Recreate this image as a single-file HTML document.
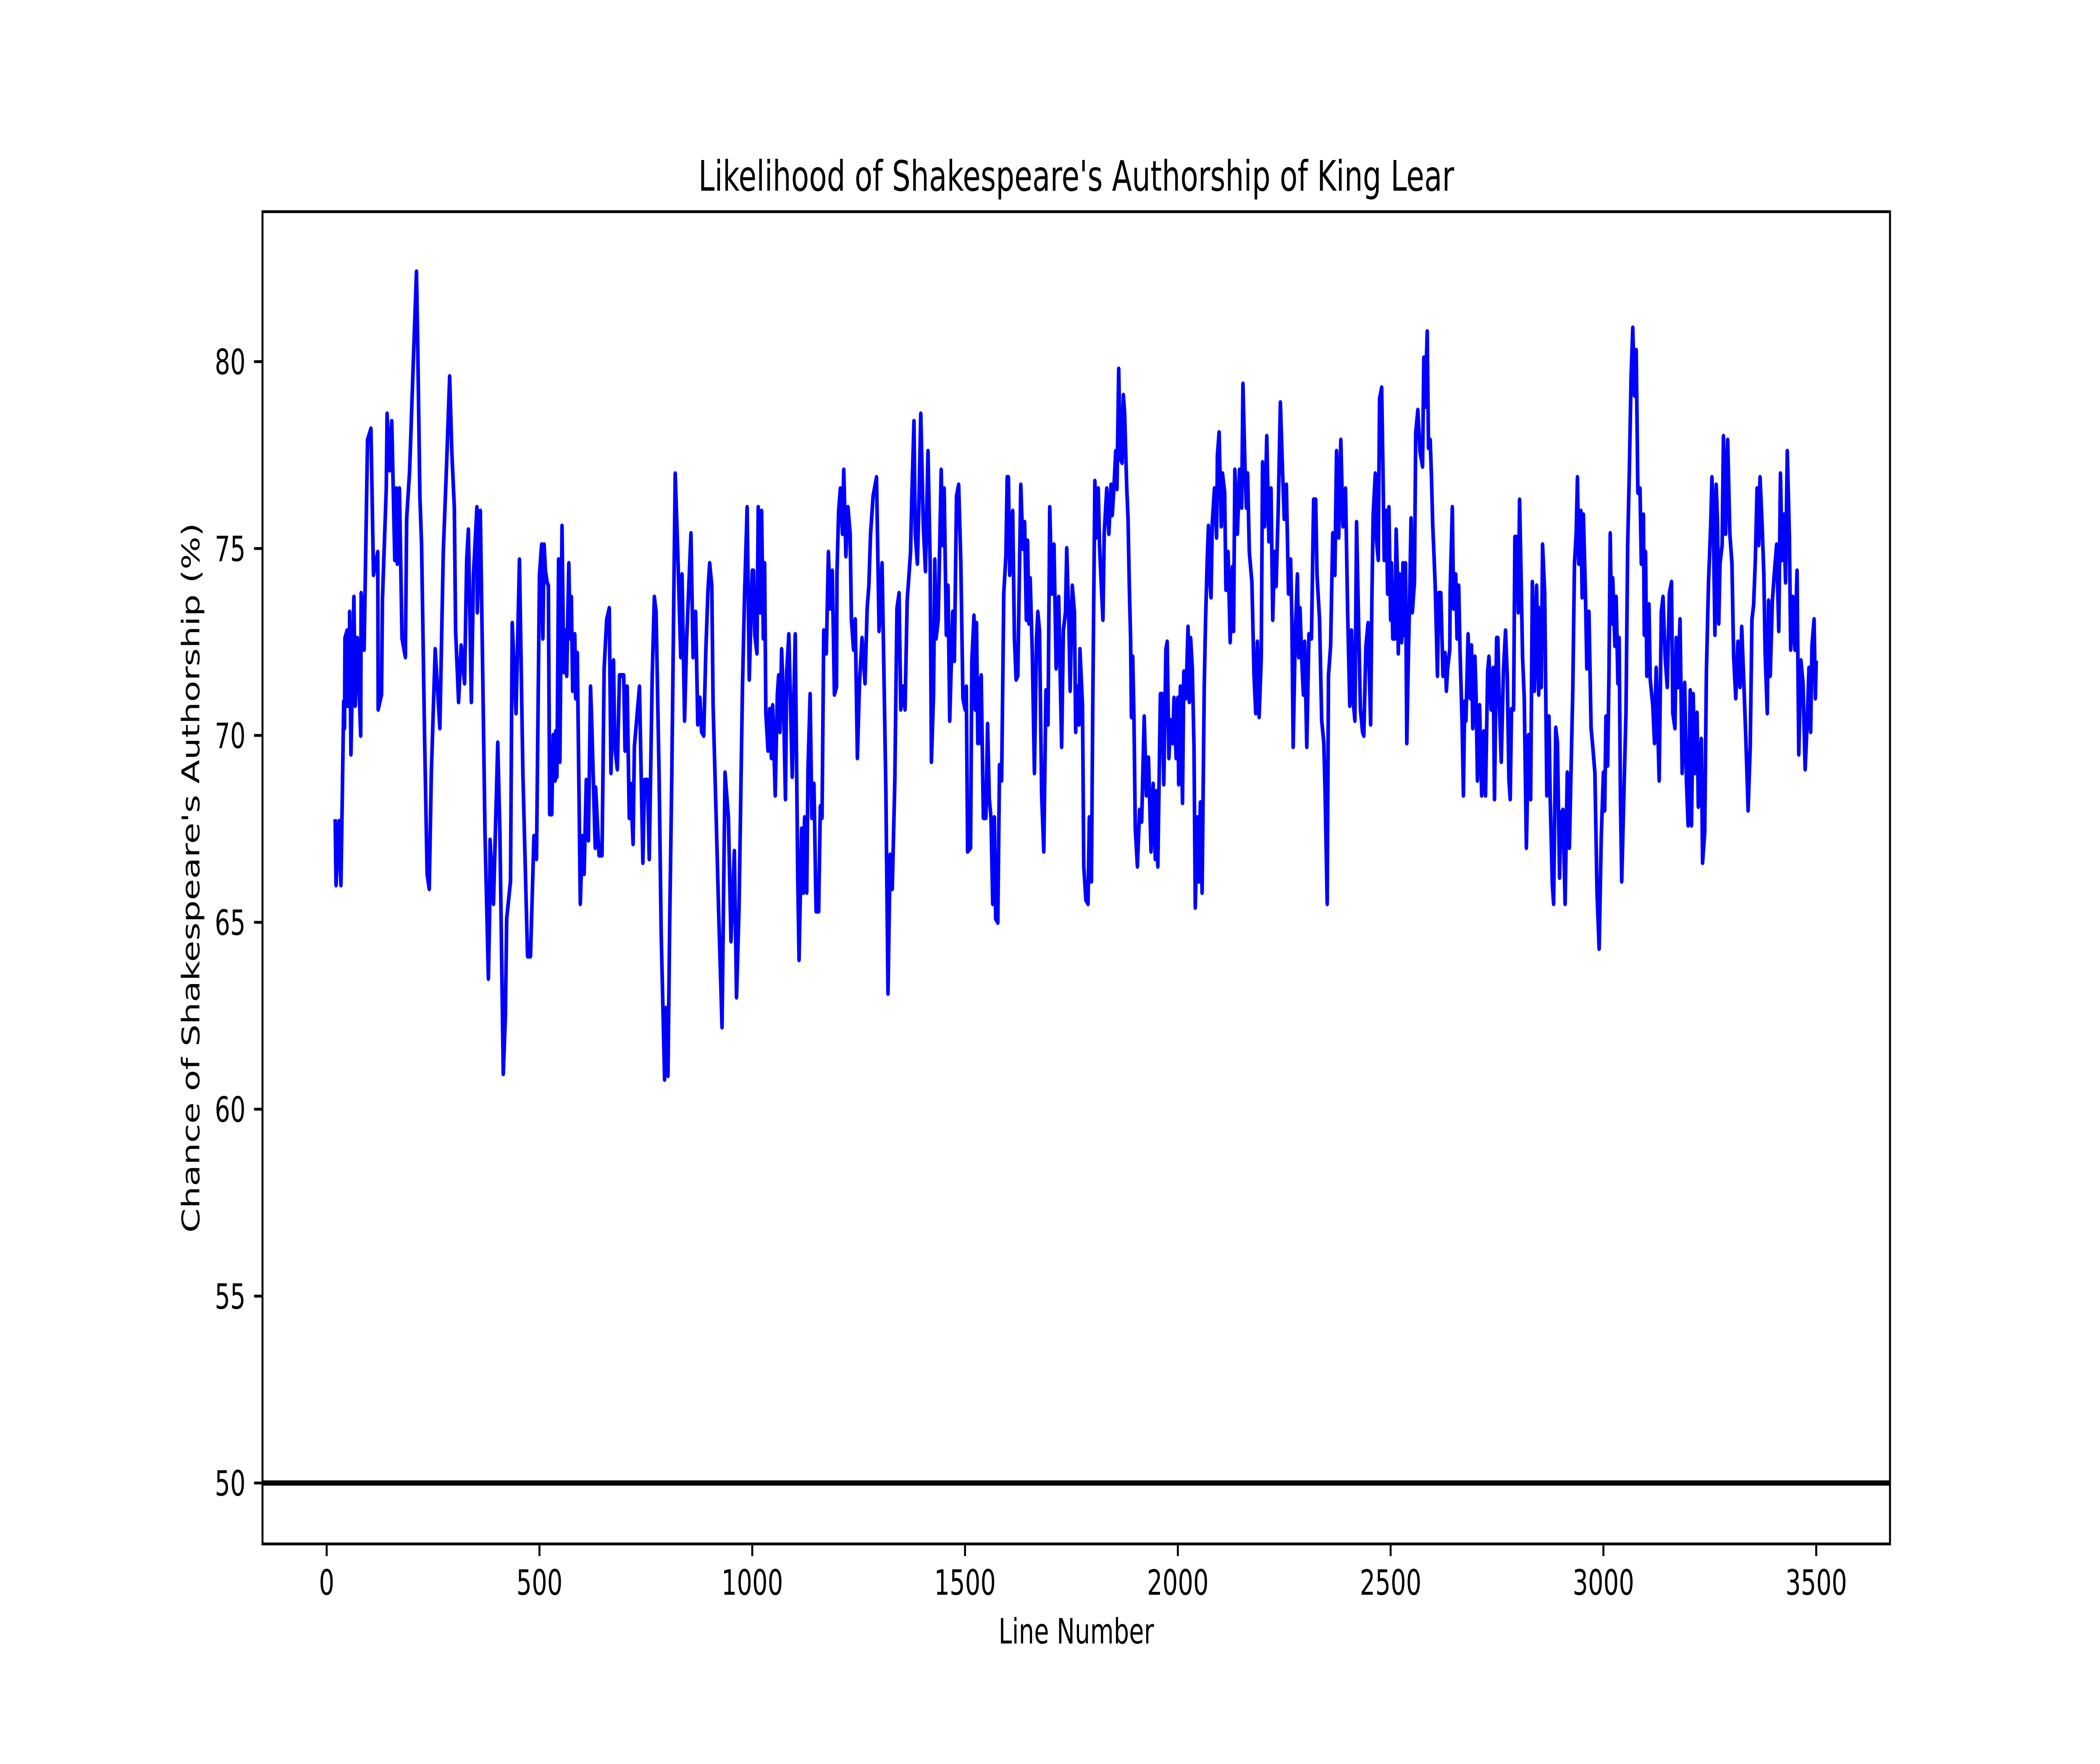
<!DOCTYPE html>
<html>
<head>
<meta charset="utf-8">
<style>
html,body{margin:0;padding:0;background:#fff;overflow:hidden;width:100%;height:100%;}
svg{display:block;width:100vw;height:100vh;}
text{font-family:"DejaVu Sans","Liberation Sans",sans-serif;fill:#000;}
</style>
</head>
<body>
<svg id="chart" viewBox="0 0 7200 4200" preserveAspectRatio="none" xmlns="http://www.w3.org/2000/svg">
  <rect x="0" y="0" width="7200" height="4200" fill="#fff"/>
  <defs><clipPath id="plotclip"><rect x="900" y="504" width="5580" height="3172"/></clipPath></defs>
  <g id="grid-layer"></g>
  <text x="3690" y="454" font-size="100" text-anchor="middle">Likelihood of Shakespeare's Authorship of King Lear</text>
  <text x="3690" y="3913" font-size="83" text-anchor="middle">Line Number</text>
  <text x="0" y="0" font-size="83" text-anchor="middle" transform="translate(683,2090) rotate(-90)">Chance of Shakespeare's Authorship (%)</text>
</svg>
<script>
const lineNumbers = [20,22,29,33.5,36,40,42,43,48,49,53,54,57,61,64,67,72,80,81,88,96,104,110,120,121,129,131,140,142,148,153,160,164,166,171,177,185,188,195,203,211,214,219,223,230,236,241,246,255,266,274,281,289,294,300,303,310,316,324,329,333,340,345,353,354,361,367,372,380,383,384,392,402,407,415,420,423,432,436,445,453,461,472,479,487,493,500,
502,505,508,511,514,518,521,524,529,532,537,538,541,545,548,553,557,561,564,569,572,575,578,583,585,589,596,601,605,610,615,620,623,631,632,640,647,652,658,664,668,674,677,683,688,698,701,706,711,714,720,723,735,743,747,754,758,765,770,774,781,786,794,797,802,806,811,819,825,832,835,841,846,856,861,867,872,877,881,886,891,896,900,905,908,915,921,929,936,944,950,958,963,969,977,982,988,993,1000,
1003,1006,1011,1014,1019,1022,1026,1029,1032,1037,1041,1045,1048,1054,1059,1062,1065,1069,1073,1078,1081,1086,1094,1101,1107,1110,1116,1120,1123,1128,1131,1136,1140,1145,1150,1156,1160,1164,1168,1174,1179,1183,1188,1193,1198,1199,1203,1207,1212,1215,1220,1225,1230,1233,1238,1242,1247,1252,1258,1265,1270,1274,1278,1284,1292,1298,1305,1311,1314,1319,1324,1329,1335,1340,1345,1349,1354,1359,1364,1372,1375,1380,1383,1388,1391,1396,1402,1407,1413,1418,1421,1426,1429,1432,1437,1444,1447,1451,1456,1460,1464,1471,1475,1480,1485,1490,1495,1500,
1503,1506,1513,1516,1521,1524,1527,1530,1534,1537,1538,1543,1549,1553,1557,1561,1565,1569,1572,1577,1581,1586,1591,1596,1599,1602,1605,1612,1616,1620,1624,1631,1636,1640,1644,1647,1650,1653,1658,1663,1668,1671,1675,1680,1685,1690,1695,1699,1704,1709,1714,1720,1727,1731,1736,1739,1744,1747,1752,1757,1760,1763,1768,1770,1776,1779,1784,1789,1792,1797,1800,1805,1808,1813,1816,1819,1824,1827,1833,1838,1843,1846,1851,1854,1857,1861,1865,1869,1872,1875,1880,1883,1886,1889,1891,1894,1897,1900,1905,1910,1915,1921,1926,1931,1937,1942,1947,1950,1953,1959,1963,1967,1972,1975,1979,1983,1988,1991,1996,2000,
2002,2006,2011,2014,2019,2024,2027,2030,2034,2038,2041,2046,2049,2053,2057,2062,2065,2069,2072,2075,2078,2081,2086,2091,2093,2097,2102,2105,2110,2113,2118,2123,2128,2131,2134,2140,2145,2150,2153,2158,2161,2164,2168,2174,2179,2183,2187,2191,2196,2199,2204,2209,2214,2219,2223,2227,2231,2236,2241,2246,2250,2255,2260,2265,2268,2271,2276,2281,2284,2287,2292,2295,2298,2303,2308,2314,2319,2324,2327,2333,2338,2343,2346,2351,2354,2359,2364,2369,2373,2378,2383,2388,2394,2399,2404,2408,2413,2416,2420,2424,2429,2434,2437,2442,2447,2453,2456,2459,2464,2467,2471,2474,2479,2482,2485,2490,2493,2496,2500,
2502,2505,2506,2510,2513,2516,2518,2521,2526,2529,2532,2535,2538,2541,2545,2548,2551,2556,2559,2564,2569,2575,2578,2581,2586,2589,2593,2596,2599,2602,2605,2610,2613,2618,2623,2628,2631,2634,2639,2640,2645,2648,2653,2656,2660,2663,2668,2671,2674,2677,2682,2687,2690,2693,2698,2701,2704,2709,2714,2719,2723,2728,2731,2736,2741,2744,2749,2752,2755,2760,2765,2770,2774,2778,2781,2784,2789,2792,2797,2800,2803,2806,2810,2814,2819,2824,2829,2833,2838,2843,2848,2851,2854,2857,2862,2867,2872,2875,2880,2883,2888,2892,2897,2900,2905,2910,2915,2920,2924,2928,2932,2936,2939,2942,2947,2950,2953,2958,2961,2966,2971,2975,2980,2985,2990,2995,3000,
3003,3006,3010,3013,3016,3019,3022,3027,3030,3034,3037,3040,3043,3048,3053,3057,3061,3065,3069,3073,3077,3081,3086,3089,3094,3096,3099,3102,3107,3110,3116,3120,3124,3128,3131,3136,3140,3145,3150,3155,3160,3163,3168,3171,3175,3180,3185,3191,3195,3199,3204,3207,3211,3215,3220,3223,3230,3233,3238,3242,3247,3252,3255,3258,3262,3265,3268,3271,3274,3279,3282,3287,3292,3297,3302,3306,3311,3316,3321,3325,3330,3335,3340,3345,3349,3353,3357,3361,3365,3368,3373,3377,3380,3385,3388,3392,3397,3402,3407,3412,3416,3420,3424,3428,3432,3437,3440,3445,3450,3455,3459,3464,3469,3474,3479,3483,3487,3490,3495,3498,3500];
const authorshipPct = [67.76,66.0,67.7,66.0,67.8,70.9,70.2,72.6,72.8,70.8,70.8,73.3,69.5,71.8,73.7,70.8,72.6,70.0,73.8,72.3,77.9,78.2,74.3,74.9,70.7,71.1,73.6,76.6,78.6,77.1,78.4,74.7,76.6,74.6,76.6,72.6,72.1,75.8,77.1,79.8,82.4,80.4,76.4,75.1,70.0,66.3,65.9,69.0,72.3,70.2,74.9,77.0,79.6,77.6,76.1,72.8,70.9,72.4,71.4,74.7,75.5,70.9,74.3,76.1,73.3,76.0,71.4,67.4,63.5,65.3,67.2,65.5,69.8,67.4,60.95,62.5,65.1,66.1,73.0,70.6,74.7,69.0,64.1,64.1,67.3,66.7,74.3,
74.6,75.1,72.6,75.1,74.4,74.1,74.0,67.9,67.9,70.0,68.8,70.1,68.9,74.7,69.3,75.6,71.7,72.8,71.6,74.6,72.6,73.7,71.2,72.7,71.0,72.2,65.5,67.3,66.3,68.8,67.2,71.3,70.3,67.0,68.6,66.8,66.8,71.8,73.1,73.4,69.0,72.0,69.7,69.1,71.6,71.6,69.6,71.3,67.8,68.7,67.1,69.7,71.3,66.6,68.8,68.8,66.7,71.6,73.7,73.3,69.0,64.7,60.8,62.7,60.9,65.0,69.0,77.0,74.9,72.1,74.3,70.4,72.6,75.4,72.1,73.3,70.3,71.0,70.1,70.0,72.3,73.9,74.6,74.0,70.8,67.9,65.3,62.2,69.0,67.8,64.5,66.9,63.0,65.4,71.3,73.8,76.1,71.5,74.4,
74.4,72.7,72.2,76.1,73.3,76.0,72.6,74.6,70.6,69.6,70.7,69.4,70.8,68.4,71.1,71.6,70.1,72.3,71.1,68.3,71.7,72.7,68.9,72.7,66.1,64.0,67.5,65.8,67.8,65.8,69.1,71.1,67.8,68.7,65.3,65.3,68.1,67.8,72.8,72.2,74.9,73.4,74.4,71.1,71.3,74.3,76.0,76.6,75.4,77.1,74.8,76.1,75.4,73.1,72.3,73.1,69.4,71.4,72.6,71.4,73.4,74.0,75.4,76.4,76.9,72.8,74.6,70.6,68.5,63.1,66.8,65.9,68.8,73.4,73.8,70.7,71.3,70.7,73.6,74.9,76.4,78.4,75.4,74.6,75.9,78.6,75.6,74.4,77.6,74.6,69.3,71.1,74.7,72.6,73.1,77.1,75.1,76.6,72.7,74.0,70.4,73.3,72.0,76.4,76.7,74.7,71.0,70.7,
71.3,66.9,67.0,72.0,73.2,70.7,73.0,69.8,71.5,69.8,71.6,67.8,67.8,70.3,68.3,67.8,65.5,67.8,65.1,65.0,69.2,68.8,73.8,74.8,76.9,76.9,74.3,76.0,72.6,71.5,71.6,76.7,75.0,75.7,73.1,75.2,73.0,74.2,72.2,69.0,72.6,73.3,72.8,68.4,66.9,71.2,70.3,76.1,73.8,75.1,71.8,73.7,69.7,72.8,73.3,75.0,73.0,71.2,74.0,73.3,70.1,71.3,70.3,72.3,70.8,66.5,65.6,65.5,67.8,66.1,70.7,76.8,75.3,76.6,75.1,74.3,73.1,75.4,76.6,75.4,76.7,75.9,76.9,77.6,76.6,79.8,77.4,77.3,79.1,78.6,76.6,75.8,74.0,72.6,70.5,72.1,70.4,67.5,66.5,68.0,67.7,70.5,68.4,69.4,66.9,68.7,66.7,68.5,66.5,71.1,71.1,68.7,72.3,72.5,69.4,70.4,69.8,71.0,69.4,71.0,
68.7,71.3,68.2,71.7,71.0,72.9,70.9,72.6,71.8,69.7,65.4,67.8,66.1,68.2,65.8,71.3,73.0,74.7,75.6,74.2,73.7,75.7,76.6,75.3,77.5,78.1,75.6,77.0,76.5,73.9,74.9,72.5,74.5,72.8,77.1,75.4,77.1,76.1,79.4,77.1,76.1,77.0,74.9,74.1,71.6,70.6,72.5,70.5,72.1,77.3,75.6,78.0,75.2,76.6,73.1,74.9,74.0,76.1,78.9,77.1,75.8,76.7,73.8,74.7,73.1,69.7,72.7,74.3,72.1,73.4,71.8,71.1,72.5,69.7,72.7,72.6,76.3,76.3,74.3,73.1,70.4,69.8,68.5,65.5,71.6,72.4,75.4,74.3,77.6,75.3,77.9,75.6,76.6,73.3,70.8,72.8,70.8,70.4,75.7,73.4,70.7,70.1,70.0,72.4,73.0,70.3,73.7,75.9,77.0,75.2,74.7,79.0,79.3,77.1,74.7,76.0,73.8,76.1,73.1,
74.6,72.6,74.0,72.6,75.5,74.3,72.2,74.3,72.5,74.6,72.7,74.6,69.8,71.7,73.9,75.8,73.3,74.1,78.1,78.7,77.6,77.2,80.1,78.8,80.8,77.7,77.9,76.9,75.6,74.8,73.9,71.6,73.8,73.8,71.6,72.2,71.2,71.8,72.3,73.9,76.1,73.4,74.3,72.6,74.0,72.3,70.3,68.4,70.9,70.4,72.7,71.0,72.4,70.2,72.1,71.0,68.8,70.8,68.4,70.1,68.4,71.7,72.1,70.7,71.8,68.3,72.6,72.6,71.0,69.3,71.7,72.8,71.6,68.8,68.3,70.7,70.7,75.3,75.3,73.3,76.3,74.6,72.1,71.0,67.0,70.0,68.3,74.1,71.2,74.0,71.1,73.4,71.3,75.1,73.8,68.4,70.5,68.3,66.0,65.5,70.2,69.8,66.2,67.9,68.0,65.5,69.0,67.0,69.1,71.2,74.6,75.4,76.9,74.6,76.0,73.7,75.9,73.7,71.8,73.3,70.2,69.7,69.0,65.8,64.3,67.3,69.0,
68.0,70.5,69.2,71.6,75.4,73.0,74.2,72.4,73.7,71.4,72.6,68.3,66.1,68.4,70.6,75.1,77.1,79.6,80.9,79.1,80.3,76.5,76.6,74.6,75.9,72.7,74.9,71.6,73.5,71.5,70.8,69.8,71.8,70.1,68.8,73.3,73.7,72.1,71.3,73.8,74.1,70.6,70.2,72.6,71.3,73.1,69.0,71.4,68.8,67.6,71.2,67.6,71.1,69.0,70.6,68.1,69.9,66.6,67.4,71.7,74.1,75.6,76.9,75.9,72.7,76.7,75.7,73.0,74.6,75.1,78.0,75.4,77.9,75.4,74.6,72.1,71.0,72.5,71.3,72.9,71.4,69.8,68.0,69.7,73.1,73.5,74.7,76.6,75.1,76.9,75.6,74.3,72.2,70.6,73.6,71.6,73.6,74.4,75.1,72.8,77.0,74.7,75.9,74.1,77.6,75.3,72.3,73.7,72.3,74.4,69.5,72.0,71.4,69.1,70.4,71.8,70.1,72.4,73.1,71.0,72.0];
const xTicks = [0,500,1000,1500,2000,2500,3000,3500];
const yTicks = [50,55,60,65,70,75,80];
const thresholdValue = [50];

const NS = 'http://www.w3.org/2000/svg';
const layer = document.getElementById('grid-layer');
function xScale(v){ return 1120 + v * (6227 - 1120) / 3500; }
function yScale(v){ return 861 + (80 - v) * 89; }
function mk(tag, attrs){ const e = document.createElementNS(NS, tag); for (const k in attrs) e.setAttribute(k, attrs[k]); return e; }

thresholdValue.forEach(t => {
  const l = mk('line', {x1: 900, x2: 6480, y1: yScale(t), y2: yScale(t), stroke: '#000', 'stroke-width': 12.5});
  
  
  layer.appendChild(l);
});

let d = '';
for (let i = 0; i < lineNumbers.length; i++) {
  d += (i ? 'L' : 'M') + xScale(lineNumbers[i]).toFixed(1) + ' ' + yScale(authorshipPct[i]).toFixed(1);
}
const path = mk('path', {d: d, fill: 'none', stroke: '#0000ff', 'stroke-width': 12.5, 'stroke-linejoin': 'round', 'clip-path': 'url(#plotclip)'});


layer.appendChild(path);

const frame = mk('rect', {x: 900, y: 504, width: 5580, height: 3172, fill: 'none', stroke: '#000', 'stroke-width': 6.7});


layer.appendChild(frame);

xTicks.forEach(t => {
  const x = xScale(t);
  const tk = mk('line', {x1: x, x2: x, y1: 3676, y2: 3705, stroke: '#000', 'stroke-width': 6.7});
  
  
  layer.appendChild(tk);
  const tx = mk('text', {x: x, y: 3797, 'font-size': 83, 'text-anchor': 'middle'});
  tx.textContent = String(t);
  
  
  layer.appendChild(tx);
});

yTicks.forEach(t => {
  const y = yScale(t);
  const tk = mk('line', {x1: 871, x2: 900, y1: y, y2: y, stroke: '#000', 'stroke-width': 6.7});
  
  
  layer.appendChild(tk);
  const tx = mk('text', {x: 842, y: y + 30, 'font-size': 83, 'text-anchor': 'end'});
  tx.textContent = String(t);
  
  
  layer.appendChild(tx);
});
</script>
</body>
</html>
